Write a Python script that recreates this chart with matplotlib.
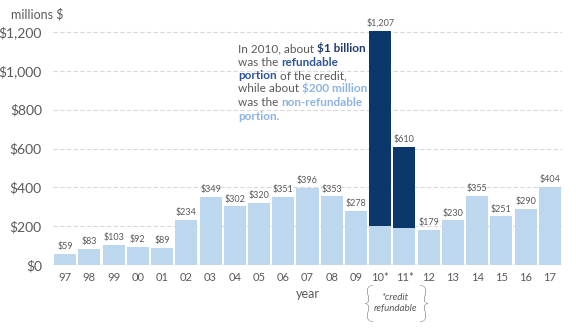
import matplotlib
matplotlib.use("Agg")
import matplotlib.pyplot as plt
from matplotlib.transforms import IdentityTransform

plt.rcParams["font.family"] = ["Lato", "DejaVu Sans"]

years = ["97", "98", "99", "00", "01", "02", "03", "04", "05", "06", "07",
         "08", "09", "10*", "11*", "12", "13", "14", "15", "16", "17"]
nonrefundable = [59, 83, 103, 92, 89, 234, 349, 302, 320, 351, 396,
                 353, 278, 200, 192, 179, 230, 355, 251, 290, 404]
refundable = [0, 0, 0, 0, 0, 0, 0, 0, 0, 0, 0,
              0, 0, 1007, 418, 0, 0, 0, 0, 0, 0]
totals = [59, 83, 103, 92, 89, 234, 349, 302, 320, 351, 396,
          353, 278, 1207, 610, 179, 230, 355, 251, 290, 404]
yticks = [0, 200, 400, 600, 800, 1000, 1200]

LIGHT = "#bdd7ee"
DARK = "#0a386a"
GRAY = "#595959"
NAVY = "#1f3a6e"
MID = "#2f5597"
PALE = "#8db3e2"

W, H = 576, 335
fig = plt.figure(figsize=(W / 100, H / 100), dpi=100)
ax = fig.add_axes([53 / W, (H - 265) / H, (562 - 53) / W, 250 / H])

x = range(len(years))
ax.bar(x, nonrefundable, width=0.91, color=LIGHT, zorder=2)
ax.bar(x, refundable, bottom=nonrefundable, width=0.91, color=DARK, zorder=2)

for i, v in enumerate(totals):
    ax.annotate(f"${v:,}", (i, v), xytext=(0, 2), textcoords="offset points",
                ha="center", va="bottom", fontsize=6.5, color=GRAY)

ax.set_xlim(-0.5, len(years) - 0.5)
ax.set_ylim(0, 1288)
ax.set_yticks(yticks)
ax.set_yticklabels([f"${v:,}" for v in yticks], fontsize=10, color=GRAY)
ax.set_xticks(list(x))
ax.set_xticklabels(years, fontsize=8, color=GRAY)
ax.tick_params(axis="both", length=0)
ax.tick_params(axis="y", pad=8)
ax.tick_params(axis="x", pad=5)
for s in ax.spines.values():
    s.set_visible(False)
ax.axhline(0, color="#d0d0d0", lw=1, zorder=3)
for v in yticks[1:]:
    ax.axhline(v, color="#d9d9d9", lw=0.8, ls=(0, (4, 2)), zorder=1)

ax.set_xlabel("year", fontsize=9, color=GRAY, labelpad=4)
fig.text(11 / W, 1 - 14 / H, "millions $", fontsize=9, color=GRAY, va="center")

# annotation with mixed styles, placed in pixel coords
renderer = fig.canvas.get_renderer()
FS = 8.5


def width_of(s, weight):
    t = fig.text(0, 0, s, fontsize=FS, fontweight=weight, transform=IdentityTransform())
    w = t.get_window_extent(renderer).width
    t.remove()
    return w


space = width_of("x x", "normal") - width_of("xx", "normal")

lines = [
    [("In 2010, about", GRAY, "normal"), ("$1 billion", NAVY, "bold")],
    [("was the", GRAY, "normal"), ("refundable", MID, "bold")],
    [("portion", MID, "bold"), ("of the credit,", GRAY, "normal")],
    [("while about", GRAY, "normal"), ("$200 million", PALE, "bold")],
    [("was the", GRAY, "normal"), ("non-refundable", PALE, "bold")],
    [("portion.", PALE, "bold")],
]
y0 = 52
for k, parts in enumerate(lines):
    xp = 238
    yp = H - (y0 + 13.5 * k)
    for s, c, wgt in parts:
        t = fig.text(xp, yp, s, fontsize=FS, fontweight=wgt, color=c, va="baseline",
                     transform=IdentityTransform())
        xp += t.get_window_extent(renderer).width + space

# refundable bracket
fig.text(395 / W, 1 - 297 / H, "*credit", fontsize=7, style="italic", color=GRAY,
         ha="center", va="center")
fig.text(395 / W, 1 - 309 / H, "refundable", fontsize=7, style="italic", color=GRAY,
         ha="center", va="center")
fig.text(368 / W, 1 - 306 / H, "{", fontsize=30, fontweight="light", color=GRAY,
         ha="center", va="center")
fig.text(423 / W, 1 - 306 / H, "}", fontsize=30, fontweight="light", color=GRAY,
         ha="center", va="center")

fig.savefig("out.png", dpi=100)
